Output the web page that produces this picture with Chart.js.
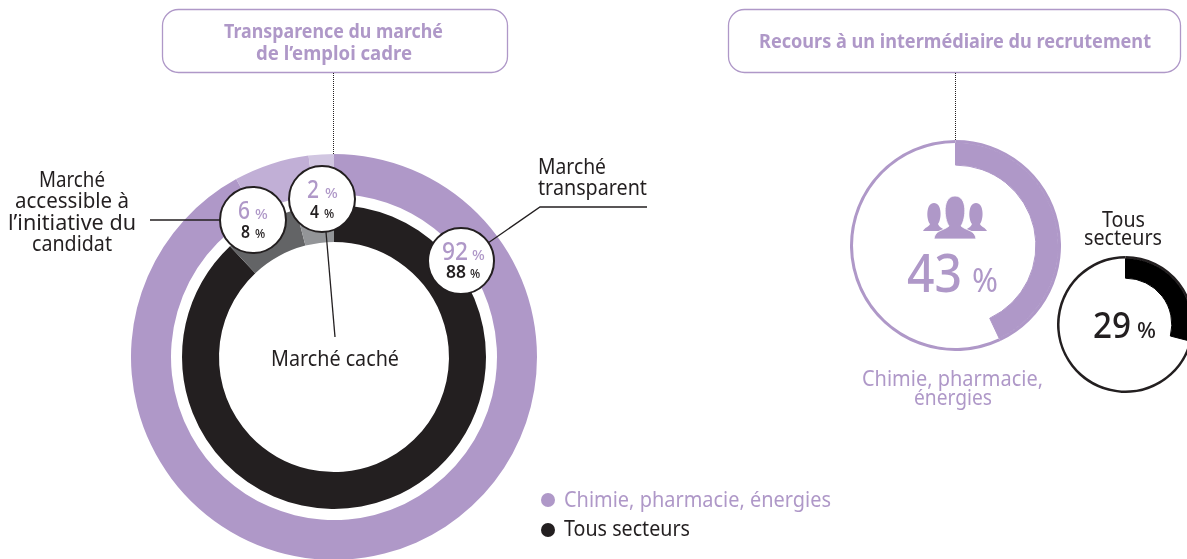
<!DOCTYPE html>
<html lang="fr">
<head>
<meta charset="utf-8">
<title>Transparence du marché de l'emploi cadre</title>
<script src="https://cdn.jsdelivr.net/npm/chart.js@4/dist/chart.umd.js"></script>
<style>
  html, body { margin: 0; padding: 0; background: #fff; overflow: hidden; width: 1187px; height: 559px; }
  canvas { position: absolute; }
  svg { position: absolute; left: 0; top: 0; }
  text { font-family: "Noto Sans", sans-serif; fill: #231f20; }
  .p { fill: #af98c8; }
  .b { font-weight: 700; }
</style>
</head>
<body>
<canvas id="marche" width="406" height="406" style="left:131px;top:154px"></canvas>
<canvas id="recoursChimie" width="211" height="211" style="left:850px;top:140px"></canvas>
<canvas id="recoursTous" width="137" height="137" style="left:1057px;top:256px"></canvas>

<svg width="1187" height="559" xmlns="http://www.w3.org/2000/svg">
  <!-- encadrés -->
  <rect x="162.5" y="9.5" width="345" height="63" rx="16" fill="#fff" stroke="#af98c8" stroke-width="1.3"/>
  <rect x="728.5" y="9.5" width="452" height="63" rx="16" fill="#fff" stroke="#af98c8" stroke-width="1.3"/>
  <text class="p b" x="224" y="38" font-size="19" textLength="219" lengthAdjust="spacingAndGlyphs">Transparence du marché</text>
  <text class="p b" x="256" y="60" font-size="19" textLength="156" lengthAdjust="spacingAndGlyphs">de l’emploi cadre</text>
  <text class="p b" x="759" y="48" font-size="19" textLength="392" lengthAdjust="spacingAndGlyphs">Recours à un intermédiaire du recrutement</text>

  <line x1="333.5" y1="73" x2="333.5" y2="154" stroke="#231f20" stroke-dasharray="1 1"/>
  <line x1="955.5" y1="73" x2="955.5" y2="140" stroke="#231f20" stroke-dasharray="1 1"/>

  <!-- traits de rappel -->
  <polyline points="647,207 540,207 488,243" fill="none" stroke="#231f20" stroke-width="1.3"/>
  <line x1="150" y1="220" x2="222" y2="220" stroke="#231f20" stroke-width="1.3"/>
  <line x1="326" y1="232" x2="335" y2="337" stroke="#231f20" stroke-width="1.3"/>

  <!-- bulles -->
  <circle cx="253" cy="220" r="33" fill="#fff" stroke="#231f20" stroke-width="2"/>
  <circle cx="322" cy="199" r="33" fill="#fff" stroke="#231f20" stroke-width="2"/>
  <circle cx="461" cy="261" r="33" fill="#fff" stroke="#231f20" stroke-width="2"/>

  <text class="p" x="238" y="219" font-size="25" font-weight="500" textLength="12" lengthAdjust="spacingAndGlyphs">6</text>
  <text class="p" x="255" y="219" font-size="15" font-weight="500">%</text>
  <text x="241" y="238" font-size="17" font-weight="600" textLength="9" lengthAdjust="spacingAndGlyphs">8</text>
  <text x="255" y="238" font-size="12" font-weight="500">%</text>

  <text class="p" x="307" y="198" font-size="25" font-weight="500" textLength="12" lengthAdjust="spacingAndGlyphs">2</text>
  <text class="p" x="325" y="198" font-size="15" font-weight="500">%</text>
  <text x="310" y="218" font-size="17" font-weight="600" textLength="9" lengthAdjust="spacingAndGlyphs">4</text>
  <text x="324" y="218" font-size="12" font-weight="500">%</text>

  <text class="p" x="442" y="260" font-size="25" font-weight="500" textLength="26" lengthAdjust="spacingAndGlyphs">92</text>
  <text class="p" x="472" y="260" font-size="15" font-weight="500">%</text>
  <text x="446" y="278" font-size="17" font-weight="600" textLength="20" lengthAdjust="spacingAndGlyphs">88</text>
  <text x="470" y="278" font-size="12" font-weight="500">%</text>

  <!-- libellés -->
  <text x="39" y="187" font-size="21" textLength="66" lengthAdjust="spacingAndGlyphs">Marché</text>
  <text x="15" y="208" font-size="21" textLength="114" lengthAdjust="spacingAndGlyphs">accessible à</text>
  <text x="8" y="230" font-size="21" textLength="128" lengthAdjust="spacingAndGlyphs">l’initiative du</text>
  <text x="32" y="251" font-size="21" textLength="80" lengthAdjust="spacingAndGlyphs">candidat</text>
  <text x="538" y="174" font-size="21" textLength="68" lengthAdjust="spacingAndGlyphs">Marché</text>
  <text x="538" y="195" font-size="21" textLength="109" lengthAdjust="spacingAndGlyphs">transparent</text>
  <text x="271" y="366" font-size="21" textLength="128" lengthAdjust="spacingAndGlyphs">Marché caché</text>

  <!-- pictogramme -->
  <g fill="#af98c8">
    <path d="M923 231 C925 227 929 227 930 224 C926 219 926 203 934 203 C942 203 942 219 938 224 C939 227 942 228 945 230 L938 231 Z"/>
    <path d="M987 231 C985 227 981 227 980 224 C984 219 984 203 976 203 C968 203 968 219 972 224 C971 227 968 228 965 230 L972 231 Z"/>
    <path d="M934 239 C935 230 943 231 949 226 C944 219 942 196 955 196 C968 196 966 219 961 226 C967 231 975 230 976 239 Z" stroke="#fff" stroke-width="0.8"/>
  </g>

  <text class="p" x="907" y="292" font-size="52" font-weight="500" textLength="55" lengthAdjust="spacingAndGlyphs">43</text>
  <text class="p" x="972" y="292" font-size="32" textLength="26" lengthAdjust="spacingAndGlyphs">%</text>
  <text class="p" x="862" y="386" font-size="21" textLength="181" lengthAdjust="spacingAndGlyphs">Chimie, pharmacie,</text>
  <text class="p" x="914" y="405" font-size="21" textLength="78" lengthAdjust="spacingAndGlyphs">énergies</text>

  <text x="1102" y="227" font-size="21" textLength="43" lengthAdjust="spacingAndGlyphs">Tous</text>
  <text x="1084" y="245" font-size="21" textLength="78" lengthAdjust="spacingAndGlyphs">secteurs</text>
  <text x="1093" y="338" font-size="36" font-weight="500" textLength="38" lengthAdjust="spacingAndGlyphs">29</text>
  <text x="1137" y="338" font-size="22" font-weight="500" textLength="19" lengthAdjust="spacingAndGlyphs">%</text>

  <!-- légende -->
  <circle cx="548" cy="500" r="7" fill="#af98c8"/>
  <circle cx="548" cy="530" r="7" fill="#231f20"/>
  <text class="p" x="564" y="507" font-size="21" textLength="267" lengthAdjust="spacingAndGlyphs">Chimie, pharmacie, énergies</text>
  <text x="564" y="536" font-size="21" textLength="126" lengthAdjust="spacingAndGlyphs">Tous secteurs</text>
</svg>

<script>
const segments = ['Marché transparent', "Marché accessible à l'initiative du candidat", 'Marché caché']
const marcheChimie = [92, 6, 2]
const marcheTous = [88, 8, 4]

const recoursLabels = ['Recours à un intermédiaire', 'Autres']
const recoursChimie = [43, 57]
const recoursTous = [29, 71]

const purple = ['#af98c8', '#c1afd6', '#d1c6e1']
const greys = ['#231f20', '#636466', '#939598']

const baseOptions = {
  responsive: false,
  animation: false,
  devicePixelRatio: 1,
  events: [],
  plugins: { legend: { display: false }, tooltip: { enabled: false } },
}

new Chart(document.getElementById('marche'), {
  type: 'doughnut',
  data: {
    labels: segments,
    datasets: [
      { label: 'Chimie, pharmacie, énergies', data: marcheChimie, backgroundColor: purple, borderWidth: 0, weight: 40 },
      // anneau vide, juste pour l'espace blanc entre les deux
      { label: '', data: [100], backgroundColor: 'transparent', borderWidth: 0, weight: 11 },
      { label: 'Tous secteurs', data: marcheTous, backgroundColor: greys, borderWidth: 0, weight: 37 },
    ],
  },
  options: { ...baseOptions, cutout: (115 / 203 * 100) + '%' },
})

function recoursChart(id, values, ringColor, arcColor, thin, thick, cutout) {
  new Chart(document.getElementById(id), {
    type: 'doughnut',
    data: {
      labels: recoursLabels,
      datasets: [
        { data: values, backgroundColor: [ringColor, ringColor], borderWidth: 0, weight: thin },
        // bordure de 1px pour masquer le joint avec l'anneau fin
        { data: values, backgroundColor: [arcColor, 'transparent'], borderColor: [arcColor, 'transparent'], borderWidth: 1, weight: thick },
      ],
    },
    options: { ...baseOptions, cutout },
  })
}

recoursChart('recoursChimie', recoursChimie, '#af98c8', '#af98c8', 3, 22, '76.2%')
recoursChart('recoursTous', recoursTous, '#231f20', '#000000', 2.5, 19.5, '67.6%')
</script>
</body>
</html>
